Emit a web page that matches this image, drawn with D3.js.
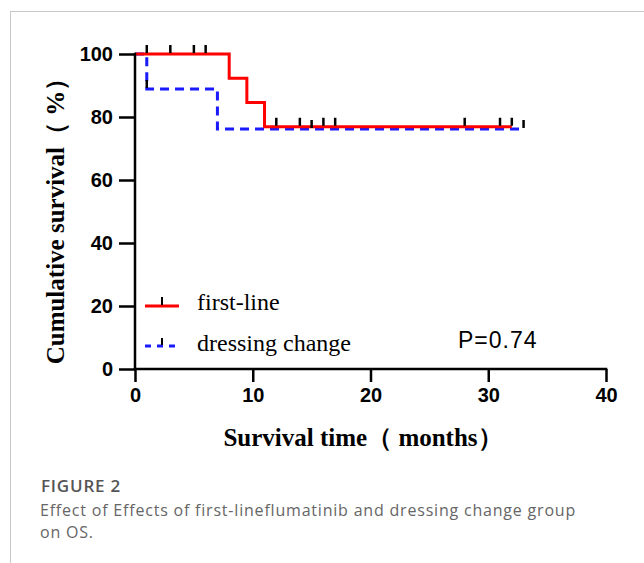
<!DOCTYPE html>
<html><head><meta charset="utf-8">
<script src="https://cdn.jsdelivr.net/npm/d3@7/dist/d3.min.js"></script>
<style>body{margin:0;background:#fff}svg{display:block}</style>
</head><body>
<script>
// Data
const xTicks = [0, 10, 20, 30, 40];
const yTicks = [0, 20, 40, 60, 80, 100];
const firstTimes = [0, 8, 9.5, 11, 32];
const firstSurv = [100, 92.3, 84.6, 76.9, 76.9];
const firstCensorTimes = [1, 3, 5, 6, 12, 14, 16, 17, 28, 31, 32];
const dressTimes = [0, 1, 7, 33];
const dressSurv = [100, 88.9, 76.2, 76.2];
const dressCensorTimes = [1, 15, 33];
const seriesNames = ["first-line", "dressing change"];
const pText = "P=0.74";

const W = 644, H = 563;
const svg = d3.select("body").append("svg").attr("width", W).attr("height", H);

// frame lines
svg.append("line").attr("x1", 10).attr("x2", W).attr("y1", 11.5).attr("y2", 11.5).attr("stroke", "#c8c8c8").attr("stroke-width", 1);
svg.append("line").attr("x1", 10.5).attr("x2", 10.5).attr("y1", 11).attr("y2", H).attr("stroke", "#c8c8c8").attr("stroke-width", 1);

const x = d3.scaleLinear().domain([0, 40]).range([135, 606]);
const y = d3.scaleLinear().domain([0, 100]).range([369, 54]);

function stepAt(times, surv, t) {
  let v = surv[0];
  for (let i = 0; i < times.length; i++) if (times[i] <= t) v = surv[i];
  return v;
}

const line = d3.line().x(d => x(d[0])).y(d => y(d[1])).curve(d3.curveStepAfter);

// blue dashed
const dressPts = dressTimes.map((t, i) => [t, dressSurv[i]]);
svg.append("path").attr("d", line(dressPts)).attr("fill", "none")
  .attr("stroke", "#1a1aff").attr("stroke-width", 3).attr("stroke-dasharray", "9,6");
// red
const firstPts = firstTimes.map((t, i) => [t, firstSurv[i]]);
svg.append("path").attr("d", line(firstPts)).attr("fill", "none")
  .attr("stroke", "#ff0000").attr("stroke-width", 3);

// censor ticks
function censor(times, tArr, sArr) {
  svg.append("g").selectAll("line").data(times).join("line")
    .attr("x1", d => x(d)).attr("x2", d => x(d))
    .attr("y1", d => y(stepAt(tArr, sArr, d)) - 1)
    .attr("y2", d => y(stepAt(tArr, sArr, d)) - 9)
    .attr("stroke", "#000").attr("stroke-width", 2.5);
}
censor(firstCensorTimes, firstTimes, firstSurv);
censor(dressCensorTimes, dressTimes, dressSurv);

// axes
const xAxis = svg.append("g").attr("transform", "translate(0,369)")
  .call(d3.axisBottom(x).tickValues(xTicks).tickSize(13).tickPadding(6));
const yAxis = svg.append("g").attr("transform", "translate(135,0)")
  .call(d3.axisLeft(y).tickValues(yTicks).tickSize(16).tickPadding(6));
[xAxis, yAxis].forEach(a => {
  a.select(".domain").attr("stroke", "#000").attr("stroke-width", 2.5);
  a.selectAll(".tick line").attr("stroke", "#000").attr("stroke-width", 2.5);
  a.selectAll("text").attr("fill", "#000").style("font-family", "Liberation Sans, Arial, sans-serif")
    .style("font-weight", "bold").style("font-size", "20px");
});
xAxis.select(".domain").attr("d", `M${x(0) - 1.25},0H${x(40) + 1.25}`);
yAxis.select(".domain").attr("d", `M0,${y(0) + 1.25}V${y(100) - 1.25}`);

// axis titles
svg.append("text").attr("x", 363).attr("y", 446).attr("text-anchor", "middle")
  .style("font-family", "Liberation Serif, Times New Roman, serif").style("font-weight", "bold")
  .style("font-size", "25px").text("Survival time\uFF08 months\uFF09");
svg.append("text").attr("transform", "translate(64,215) rotate(-90)").attr("text-anchor", "middle")
  .style("font-family", "Liberation Serif, Times New Roman, serif").style("font-weight", "bold")
  .style("font-size", "25px").text("Cumulative survival\uFF08 %\uFF09");

// legend
const lg = svg.append("g");
lg.append("line").attr("x1", 145).attr("x2", 179).attr("y1", 306).attr("y2", 306).attr("stroke", "#ff0000").attr("stroke-width", 3);
lg.append("line").attr("x1", 162).attr("x2", 162).attr("y1", 305).attr("y2", 297).attr("stroke", "#000").attr("stroke-width", 2);
lg.append("line").attr("x1", 145).attr("x2", 179).attr("y1", 346).attr("y2", 346).attr("stroke", "#1a1aff").attr("stroke-width", 3).attr("stroke-dasharray", "6,6");
lg.append("line").attr("x1", 162).attr("x2", 162).attr("y1", 345).attr("y2", 338).attr("stroke", "#000").attr("stroke-width", 2);
lg.selectAll("text.leg").data(seriesNames).join("text").attr("class", "leg")
  .attr("x", 197).attr("y", (d, i) => 310 + i * 41)
  .style("font-family", "Liberation Serif, Times New Roman, serif").style("font-size", "24px")
  .text(d => d);

svg.append("text").attr("x", 458).attr("y", 348)
  .style("font-family", "Liberation Sans, Arial, sans-serif").style("font-size", "23px")
  .style("letter-spacing", "1px").text(pText);

// caption
svg.append("text").attr("x", 41).attr("y", 492)
  .style("font-family", "Open Sans, sans-serif").style("font-weight", "600").style("font-size", "17px")
  .style("letter-spacing", "0.8px").attr("fill", "#555").text("FIGURE 2");
svg.append("text").attr("x", 40).attr("y", 516)
  .style("font-family", "Open Sans, sans-serif").style("font-size", "16px").attr("fill", "#666")
  .style("letter-spacing", "0.8px")
  .text("Effect of Effects of first-lineflumatinib and dressing change group");
svg.append("text").attr("x", 40).attr("y", 538)
  .style("font-family", "Open Sans, sans-serif").style("font-size", "16px").attr("fill", "#666")
  .style("letter-spacing", "0.8px").text("on OS.");
</script>
</body></html>
